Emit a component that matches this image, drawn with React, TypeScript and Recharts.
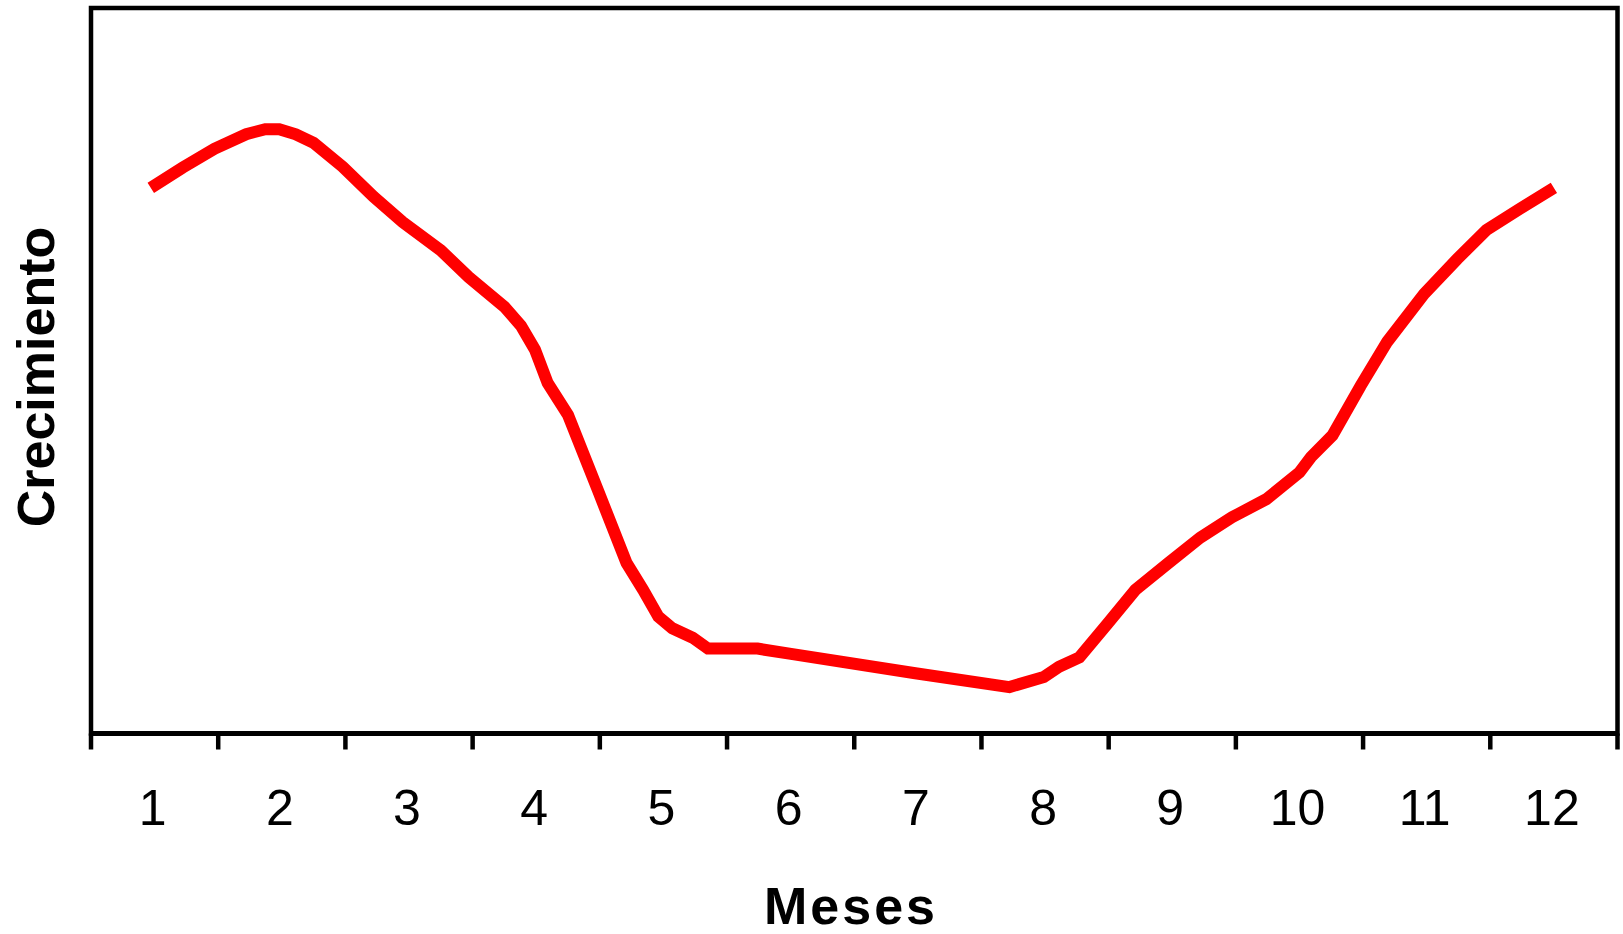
import { LineChart, Line, XAxis, YAxis, ReferenceArea } from 'recharts'

// posición de cada punto en meses (1 = centro de la categoría "1")
const mesesX = [
  0.97, 1.22, 1.47, 1.72, 1.87, 1.98, 2.11, 2.25, 2.48, 2.72, 2.95, 3.25,
  3.47, 3.75, 3.88, 3.99, 4.09, 4.25, 4.49, 4.71, 4.84, 4.96, 5.07, 5.23,
  5.35, 5.74, 5.99, 6.98, 7.72, 7.99, 8.11, 8.27, 8.49, 8.71, 8.97, 9.22,
  9.47, 9.74, 10.0, 10.09, 10.26, 10.48, 10.69, 10.98, 11.24, 11.47, 11.73, 12.0,
]

// crecimiento (escala relativa 0-100, el eje no lleva valores)
const crecimiento = [
  75.2, 78.0, 80.6, 82.6, 83.3, 83.3, 82.6, 81.4, 78.1, 74.0, 70.5, 66.6,
  62.9, 58.8, 56.2, 52.9, 48.3, 43.9, 33.3, 23.5, 19.8, 16.1, 14.5, 13.2,
  11.7, 11.7, 11.0, 8.3, 6.4, 7.8, 9.2, 10.5, 15.1, 19.8, 23.5, 27.0,
  29.8, 32.3, 36.0, 38.1, 41.1, 47.9, 54.0, 60.6, 65.4, 69.4, 72.3, 75.2,
]

const etiquetasMes = [1, 2, 3, 4, 5, 6, 7, 8, 9, 10, 11, 12]
const limitesMes = [0.5, 1.5, 2.5, 3.5, 4.5, 5.5, 6.5, 7.5, 8.5, 9.5, 10.5, 11.5, 12.5]

const data = mesesX.map((mes, i) => ({ mes, valor: crecimiento[i] }))
const todosTicks = [...limitesMes, ...etiquetasMes].sort((a, b) => a - b)

const FONT = '"Liberation Sans", Arial, Helvetica, sans-serif'
const W = 1623
const H = 934

// marcas en los límites entre meses, número del mes en el centro
const MesTick = (props: any) => {
  const { x, y, payload } = props
  const v = payload.value
  if (!Number.isInteger(v)) {
    return <line x1={x} x2={x} y1={y} y2={y + 16} stroke="#000" strokeWidth={4.5} />
  }
  return (
    <text x={x - 2} y={y + 91} textAnchor="middle" fill="#000" fontSize={50} fontFamily={FONT}>
      {v}
    </text>
  )
}

export default function App() {
  return (
    <div style={{ position: 'absolute', left: 0, top: 0, width: W, height: H, background: '#fff' }}>
      <LineChart
        width={W}
        height={H}
        data={data}
        margin={{ top: 8, right: 5.5, left: 91, bottom: 100.5 }}
      >
        <YAxis hide width={0} type="number" domain={[0, 100]} />
        <XAxis
          dataKey="mes"
          type="number"
          domain={[0.5, 12.5]}
          ticks={todosTicks}
          interval={0}
          height={100}
          allowDataOverflow
          axisLine={{ stroke: '#000', strokeWidth: 5 }}
          tickLine={false}
          tickSize={0}
          tickMargin={0}
          tick={MesTick}
        />
        <ReferenceArea
          x1={0.5}
          x2={12.5}
          y1={0}
          y2={100}
          fill="none"
          fillOpacity={0}
          stroke="#000"
          strokeWidth={4.5}
        />
        <Line
          type="linear"
          dataKey="valor"
          stroke="#ff0000"
          strokeWidth={12}
          dot={false}
          activeDot={false}
          isAnimationActive={false}
        />
      </LineChart>
      <svg
        width={W}
        height={H}
        style={{ position: 'absolute', left: 0, top: 0, pointerEvents: 'none' }}
      >
        <text
          x={851}
          y={924}
          textAnchor="middle"
          fontFamily={FONT}
          fontWeight="bold"
          fontSize={52}
          letterSpacing={3}
          fill="#000"
        >
          Meses
        </text>
        <text
          transform="translate(54,377) rotate(-90)"
          textAnchor="middle"
          fontFamily={FONT}
          fontWeight="bold"
          fontSize={52}
          fill="#000"
        >
          Crecimiento
        </text>
      </svg>
    </div>
  )
}
